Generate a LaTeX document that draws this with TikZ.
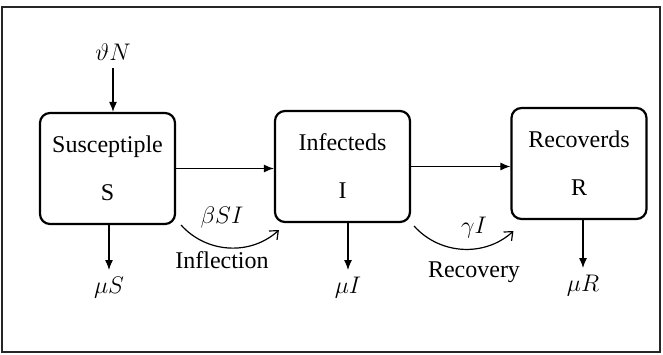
\documentclass[tikz,border=0pt]{standalone}
\usepackage{fontspec}
\setmainfont{Liberation Serif}
\usetikzlibrary{arrows.meta}
\begin{document}
\begin{tikzpicture}[x=0.5pt,y=-0.5pt,
    compartment/.style={draw,line width=1.1pt,rounded corners=5pt,minimum width=67.5pt,minimum height=55.5pt,align=center,font=\fontsize{12}{14}\selectfont},
    lbl/.style={font=\fontsize{12}{14}\selectfont},
    flow/.style={-{Latex[length=5pt,width=4pt]},line width=0.6pt},
    transfer/.style={-{Straight Barb[length=3.5pt,width=6pt]},line width=0.6pt}]
    \useasboundingbox (0,0) rectangle (663,354);
    % Frame
    \draw[line width=0.7pt,black!85] (2,7) rectangle (660,352);
    % Compartments
    \node[compartment] (S) at (107.5,168.5) {Susceptiple\\[10pt]S};
    \node[compartment] (I) at (342.5,166.5) {Infecteds\\[10pt]I};
    \node[compartment] (R) at (579,163.5) {Recoverds\\[10pt]R};
    % Labels
    \node[lbl,anchor=south] (thetaN) at (113,68) {$\vartheta N$};
    \node[lbl,anchor=north] (muS) at (109,270) {$\mu S$};
    \node[lbl,anchor=north] (muI) at (348,270) {$\mu I$};
    \node[lbl,anchor=north] (muR) at (583,268) {$\mu R$};
    \node[lbl] (betaSI) at (222,217) {$\beta SI$};
    \node[lbl] (infl) at (222,260) {Inflection};
    \node[lbl] (gammaI) at (474,228) {$\gamma I$};
    \node[lbl] (recov) at (474,272) {Recovery};
    % Flows
    \draw[flow] (thetaN.south) -- (thetaN.south |- S.north);
    \draw[flow] (S.east) -- (I.west |- S.east);
    \draw[flow] (I.east) -- (R.west |- I.east);
    \draw[flow] (muS.north |- S.south) -- (muS.north);
    \draw[flow] (muI.north |- I.south) -- (muI.north);
    \draw[flow] (muR.north |- R.south) -- (muR.north);
    % Transfers
    \draw[transfer] ([xshift=2.5pt]S.south east) to[bend right=45] ([xshift=2.5pt,yshift=-3.5pt]I.south west);
    \draw[transfer] ([xshift=1.5pt,yshift=-1.5pt]I.south east) to[bend right=45] ([xshift=1.5pt,yshift=-5.5pt]R.south west);
\end{tikzpicture}
\end{document}
